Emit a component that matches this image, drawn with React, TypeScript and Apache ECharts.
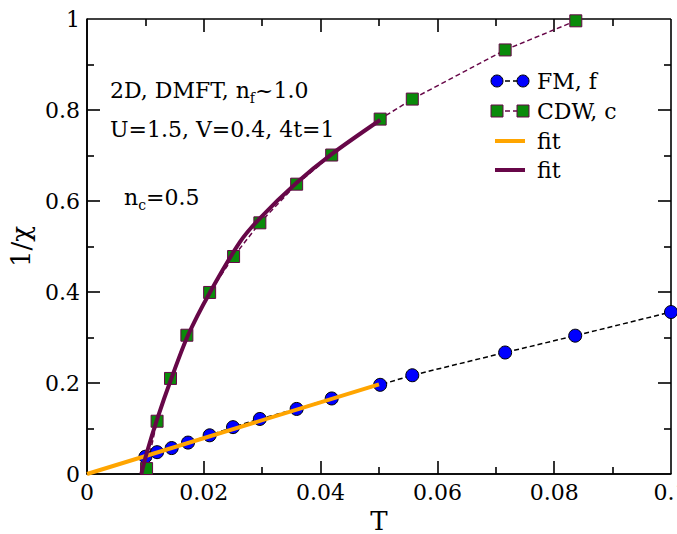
import React, { useEffect, useRef } from "react";
import * as echarts from "echarts";

const fmT = [0.0100, 0.0120, 0.0145, 0.0173, 0.0210, 0.0250, 0.0296, 0.0359, 0.0419, 0.0502, 0.0557, 0.0716, 0.0836, 0.1000];
const fmV = [0.038, 0.048, 0.057, 0.069, 0.085, 0.103, 0.121, 0.143, 0.166, 0.196, 0.217, 0.267, 0.304, 0.356];
const cdwT = [0.0102, 0.0120, 0.0143, 0.0171, 0.0210, 0.0251, 0.0296, 0.0359, 0.0419, 0.0502, 0.0557, 0.0716, 0.0837];
const cdwV = [0.012, 0.116, 0.210, 0.305, 0.399, 0.478, 0.552, 0.637, 0.701, 0.780, 0.824, 0.932, 0.996];
const fitFmT = [0, 0.05];
const fitFmV = [0, 0.197];
const fitCdwT = [0.0093, 0.0102, 0.012, 0.0145, 0.0173, 0.021, 0.0262, 0.0296, 0.0359, 0.0419, 0.0502];
const fitCdwV = [0, 0.045, 0.12, 0.212, 0.305, 0.398, 0.51, 0.562, 0.64, 0.703, 0.778];

const xMajorTicks = [0.02, 0.04, 0.06, 0.08];
const xMinorTicks = [0.01, 0.03, 0.05, 0.07, 0.09];
const yMajorTicks = [0.2, 0.4, 0.6, 0.8];
const yMinorTicks = [0.1, 0.3, 0.5, 0.7, 0.9];

const legendLabels = ["FM, f", "CDW, c", "fit", "fit"];
const annot1 = "2D, DMFT, n{sub|f}~1.0";
const annot2 = "U=1.5, V=0.4, 4t=1";
const annot3 = "n{sub|c}=0.5";

const FONT = "DejaVu Serif";
const BLUE = "#0000ff";
const GREEN = "#0a8a0a";
const MAROON = "#670748";
const ORANGE = "#ffa500";

const W = 677;
const H = 534;
const G = { left: 87, right: 6, top: 19, bottom: 60 };
const X_MIN = 0, X_MAX = 0.1, Y_MIN = 0, Y_MAX = 1;

const zip = (a: number[], b: number[]) => a.map((x, i) => [x, b[i]]);

export default function App() {
  const ref = useRef<HTMLDivElement>(null);
  useEffect(() => {
    if (!ref.current) return;
    const chart = echarts.init(ref.current, null, { renderer: "svg" });

    // tick lengths converted from pixels to data units
    const plotW = W - G.left - G.right;
    const plotH = H - G.top - G.bottom;
    const xPerPx = (X_MAX - X_MIN) / plotW;
    const yPerPx = (Y_MAX - Y_MIN) / plotH;
    const frameSegs: any[] = [];
    frameSegs.push({ coords: [[X_MIN, Y_MIN], [X_MAX, Y_MIN]] });
    frameSegs.push({ coords: [[X_MAX, Y_MIN], [X_MAX, Y_MAX]] });
    frameSegs.push({ coords: [[X_MAX, Y_MAX], [X_MIN, Y_MAX]] });
    frameSegs.push({ coords: [[X_MIN, Y_MAX], [X_MIN, Y_MIN]] });
    const addX = (vals: number[], px: number) => vals.forEach((v) => {
      frameSegs.push({ coords: [[v, Y_MIN], [v, Y_MIN + px * yPerPx]] });
      frameSegs.push({ coords: [[v, Y_MAX], [v, Y_MAX - px * yPerPx]] });
    });
    const addY = (vals: number[], px: number) => vals.forEach((v) => {
      frameSegs.push({ coords: [[X_MIN, v], [X_MIN + px * xPerPx, v]] });
      frameSegs.push({ coords: [[X_MAX, v], [X_MAX - px * xPerPx, v]] });
    });
    addX(xMajorTicks, 13);
    addX(xMinorTicks, 7);
    addY(yMajorTicks, 13);
    addY(yMinorTicks, 7);

    const legendX = 497;
    const legendX2 = 523;
    const rowsY = [81, 111, 141, 170];
    const textX = 537;
    const graphic: any[] = [];
    graphic.push({ type: "line", shape: { x1: legendX, y1: rowsY[0], x2: legendX2, y2: rowsY[0] }, style: { stroke: "#000", lineWidth: 1.5, lineDash: [5, 3] } });
    graphic.push({ type: "circle", shape: { cx: legendX, cy: rowsY[0], r: 6 }, style: { fill: BLUE, stroke: "#000", lineWidth: 1 } });
    graphic.push({ type: "circle", shape: { cx: legendX2, cy: rowsY[0], r: 6 }, style: { fill: BLUE, stroke: "#000", lineWidth: 1 } });
    graphic.push({ type: "line", shape: { x1: legendX, y1: rowsY[1], x2: legendX2, y2: rowsY[1] }, style: { stroke: MAROON, lineWidth: 1.5, lineDash: [5, 3] } });
    graphic.push({ type: "rect", shape: { x: legendX - 6, y: rowsY[1] - 6, width: 12, height: 12 }, style: { fill: GREEN, stroke: MAROON, lineWidth: 1 } });
    graphic.push({ type: "rect", shape: { x: legendX2 - 6, y: rowsY[1] - 6, width: 12, height: 12 }, style: { fill: GREEN, stroke: MAROON, lineWidth: 1 } });
    graphic.push({ type: "line", shape: { x1: legendX - 2, y1: rowsY[2], x2: legendX2 + 2, y2: rowsY[2] }, style: { stroke: ORANGE, lineWidth: 4 } });
    graphic.push({ type: "line", shape: { x1: legendX - 2, y1: rowsY[3], x2: legendX2 + 2, y2: rowsY[3] }, style: { stroke: MAROON, lineWidth: 4 } });
    legendLabels.forEach((t, i) => {
      graphic.push({ type: "text", x: textX, y: rowsY[i], style: { text: t, fontSize: 22, fontFamily: FONT, fill: "#000", verticalAlign: "middle" } });
    });
    const rich = { sub: { fontSize: 14, fontFamily: FONT, padding: [16, 0, 0, 0] } };
    graphic.push({ type: "text", x: 110, y: 90, style: { text: annot1, fontSize: 22, fontFamily: FONT, fill: "#000", verticalAlign: "middle", rich } });
    graphic.push({ type: "text", x: 110, y: 129, style: { text: annot2, fontSize: 22, fontFamily: FONT, fill: "#000", verticalAlign: "middle" } });
    graphic.push({ type: "text", x: 124, y: 197, style: { text: annot3, fontSize: 22, fontFamily: FONT, fill: "#000", verticalAlign: "middle", rich } });

    chart.setOption({
      animation: false,
      grid: { ...G, outerBoundsMode: "none" },
      xAxis: {
        type: "value", min: X_MIN, max: X_MAX, interval: 0.02, position: "bottom",
        name: "T", nameLocation: "middle", nameGap: 33,
        nameTextStyle: { fontSize: 26, fontFamily: FONT, color: "#000" },
        axisLabel: { fontSize: 22, fontFamily: FONT, color: "#000", margin: 7 },
        axisLine: { show: true, onZero: false, lineStyle: { color: "#000", width: 1.6 } },
        axisTick: { show: false },
        splitLine: { show: false },
      },
      yAxis: {
        type: "value", min: Y_MIN, max: Y_MAX, interval: 0.2, position: "left",
        name: "1/χ", nameLocation: "middle", nameGap: 52, nameRotate: 90,
        nameTextStyle: { fontSize: 26, fontFamily: FONT, color: "#000" },
        axisLabel: { fontSize: 22, fontFamily: FONT, color: "#000", margin: 7 },
        axisLine: { show: true, onZero: false, lineStyle: { color: "#000", width: 1.6 } },
        axisTick: { show: false },
        splitLine: { show: false },
      },
      series: [
        {
          type: "lines", name: "frame", coordinateSystem: "cartesian2d",
          data: frameSegs, clip: false, silent: true,
          lineStyle: { color: "#000", width: 1.6, opacity: 1, curveness: 0 },
          z: 1,
        },
        {
          type: "line", name: "FM, f", data: zip(fmT, fmV),
          lineStyle: { color: "#000", width: 1.5, type: [5, 3] },
          symbol: "circle", symbolSize: 13,
          itemStyle: { color: BLUE, borderColor: "#000", borderWidth: 1 },
          z: 2,
        },
        {
          type: "line", name: "CDW, c", data: zip(cdwT, cdwV),
          lineStyle: { color: MAROON, width: 1.5, type: [5, 3] },
          symbol: "rect", symbolSize: 12,
          itemStyle: { color: GREEN, borderColor: MAROON, borderWidth: 1 },
          z: 2,
        },
        {
          type: "line", name: "fit", data: zip(fitFmT, fitFmV),
          lineStyle: { color: ORANGE, width: 4 }, showSymbol: false, symbol: "none",
          z: 3,
        },
        {
          type: "line", name: "fit2", data: zip(fitCdwT, fitCdwV), smooth: 0.3,
          lineStyle: { color: MAROON, width: 4 }, showSymbol: false, symbol: "none",
          z: 3,
        },
      ],
      graphic,
    });
    return () => chart.dispose();
  }, []);
  return <div ref={ref} style={{ position: "fixed", left: 0, top: 0, width: W, height: H, background: "#fff" }} />;
}
